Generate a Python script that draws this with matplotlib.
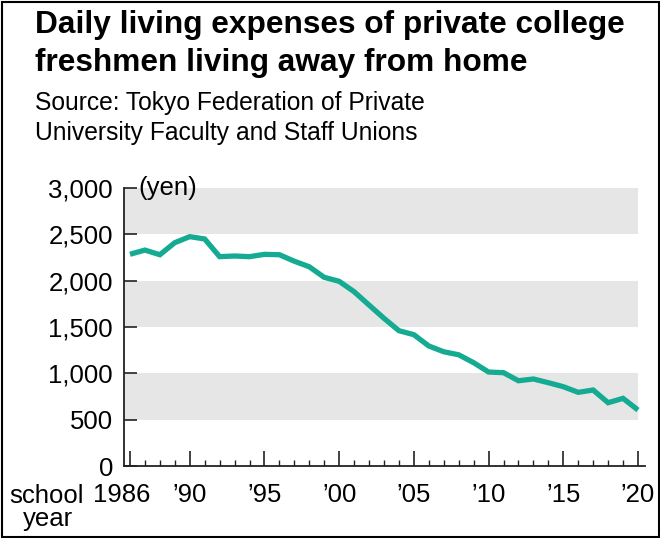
import matplotlib
matplotlib.use("Agg")
import matplotlib.pyplot as plt
import matplotlib.patches as patches
from matplotlib.transforms import ScaledTranslation

plt.rcParams['font.family'] = ['Liberation Sans', 'DejaVu Sans']

# school years and daily living expenses (yen)
years = list(range(1986, 2021))
expenses = [2285, 2330, 2280, 2410, 2475, 2450, 2259, 2266, 2259, 2284,
            2280, 2210, 2150, 2036, 1993, 1881, 1737, 1594, 1460, 1417,
            1295, 1233, 1200, 1115, 1014, 1007, 920, 939, 899, 856,
            795, 820, 683, 730, 604]

yticks = [0, 500, 1000, 1500, 2000, 2500, 3000]
ytick_labels = ['0', '500', '1,000', '1,500', '2,000', '2,500', '3,000']
xticks = [1986, 1990, 1995, 2000, 2005, 2010, 2015, 2020]
xtick_labels = ['1986', '\u201990', '\u201995', '\u201900', '\u201905',
                '\u201910', '\u201915', '\u201920']
bands = [(500, 1000), (1500, 2000), (2500, 3000)]

W, H = 660, 538
fig = plt.figure(figsize=(6.6, 5.38), dpi=100)

# axes placed in pixel terms
ax_left, ax_right, ax_bottom, ax_top = 124, 645, 466, 188
ax = fig.add_axes([ax_left / W, 1 - ax_bottom / H,
                   (ax_right - ax_left) / W, (ax_bottom - ax_top) / H])

ax.set_xlim(1985.6, 2020.47)
ax.set_ylim(0, 3000)

for lo, hi in bands:
    ax.fill_between([1985.6, 2020.0], lo, hi, color='#e6e6e6', lw=0, zorder=0)

ax.plot(years, expenses, color='#14ab92', lw=3.8, solid_joinstyle='miter',
        solid_capstyle='butt', zorder=3)

for s in ['top', 'right']:
    ax.spines[s].set_visible(False)
for s in ['left', 'bottom']:
    ax.spines[s].set_linewidth(1.3)
    ax.spines[s].set_color('#222222')

ax.set_yticks(yticks)
ax.set_yticklabels(ytick_labels)
ax.set_xticks(xticks)
ax.set_xticklabels(xtick_labels)
ax.set_xticks(years, minor=True)
ax.tick_params(axis='y', direction='in', length=9.5, width=1.2, pad=8,
               labelsize=18.5, color='#222222')
ax.tick_params(axis='x', which='major', direction='in', length=11, width=1.2,
               pad=12.5, labelsize=18.5, color='#222222')
ax.tick_params(axis='x', which='minor', direction='in', length=4.5, width=1.0,
               color='#222222')

# nudge the first year label left like in the original
lab0 = ax.get_xticklabels()[0]
lab0.set_transform(lab0.get_transform() + ScaledTranslation(-0.08, 0, fig.dpi_scale_trans))

ax.text(1986.55, 3000, '(yen)', fontsize=18.5, va='center', ha='left')

fig.text(9 / W, 1 - 503 / H, 'school', fontsize=18.5, ha='left', va='baseline')
fig.text(48 / W, 1 - 526 / H, 'year', fontsize=18.5, ha='center', va='baseline')

fig.text(35 / W, 1 - 33.5 / H, 'Daily living expenses of private college',
         fontsize=22.8, fontweight='bold', ha='left', va='baseline')
fig.text(35 / W, 1 - 71.5 / H, 'freshmen living away from home',
         fontsize=22.8, fontweight='bold', ha='left', va='baseline')
fig.text(35 / W, 1 - 110 / H, 'Source: Tokyo Federation of Private',
         fontsize=17.7, ha='left', va='baseline')
fig.text(35 / W, 1 - 140 / H, 'University Faculty and Staff Unions',
         fontsize=17.7, ha='left', va='baseline')

# outer frame
fig.patches.append(patches.Rectangle((1.5 / W, 1.5 / H), 1 - 3 / W, 1 - 3 / H,
                                     transform=fig.transFigure, fill=False,
                                     edgecolor='black', lw=1.5))

fig.savefig('out.png', dpi=100)
